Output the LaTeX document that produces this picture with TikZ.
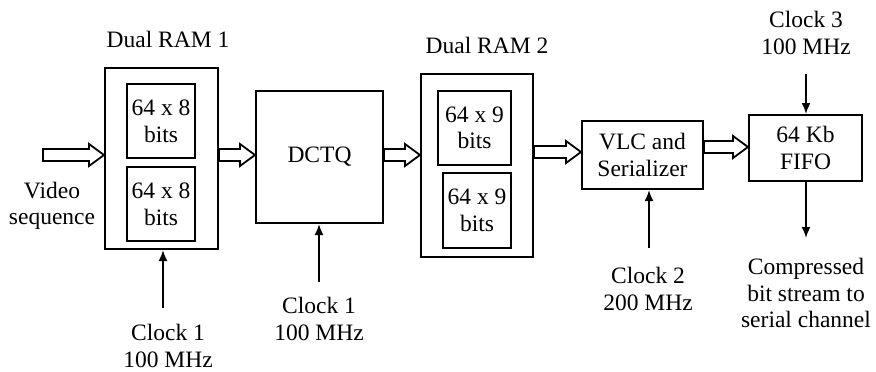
\documentclass[tikz,border=0pt]{standalone}
\usepackage{fontspec}
\setmainfont{Liberation Serif}
\usetikzlibrary{arrows.meta,calc}
\tikzset{
  box/.style={draw,line width=1pt,inner sep=0pt,align=center},
  lbl/.style={inner sep=0pt,align=center},
  harr/.style={draw,line width=0.9pt,fill=white,line join=miter},
  clk/.style={line width=0.9pt,-{Latex[length=5.5pt,width=4.5pt]}}
}
\newcommand\harrow[3]{\path[harr] let \p1=([yshift=#3]#1), \p2=(#2) in
  (\x1,\y1+3pt) -- (\x2-7.5pt,\y1+3pt) -- (\x2-7.5pt,\y1+5.5pt) -- (\x2,\y1)
  -- (\x2-7.5pt,\y1-5.5pt) -- (\x2-7.5pt,\y1-3pt) -- (\x1,\y1-3pt) -- cycle;}
\begin{document}
\begin{tikzpicture}[x=0.5pt,y=-0.5pt,font=\fontsize{11.75}{13.3}\selectfont]
\useasboundingbox (0,0) rectangle (876,371);
% Dual RAM 1
\node[box,minimum width=56.5pt,minimum height=90.5pt] (ram1) at (161.5,158.5) {};
\node[box,minimum width=34pt,minimum height=37pt] (r1a) at (161,121) {64 x 8\\bits};
\node[box,minimum width=34pt,minimum height=37pt] (r1b) at (161,204) {64 x 8\\bits};
\node[lbl] (ram1l) at (168,39) {Dual RAM 1};
% DCTQ
\node[box,minimum width=63.5pt,minimum height=66pt] (dctq) at (319.5,157) {DCTQ};
% Dual RAM 2
\node[box,minimum width=56pt,minimum height=91.5pt] (ram2) at (477,165.5) {};
\node[box,minimum width=36.5pt,minimum height=37pt] (r2a) at (474.5,128) {64 x 9\\bits};
\node[box,minimum width=34pt,minimum height=37.5pt] (r2b) at (477,210.5) {64 x 9\\bits};
\node[lbl] (ram2l) at (487,45) {Dual RAM 2};
% VLC
\node[box,minimum width=60.5pt,minimum height=34pt] (vlc) at (642.5,155) {VLC and\\Serializer};
% FIFO
\node[box,minimum width=56.5pt,minimum height=33pt] (fifo) at (805.5,148) {64 Kb\\FIFO};
% labels
\node[lbl] (video) at (52,206) {Video\\sequence};
\node[lbl] (c1al) at (168,346) {Clock 1\\100 MHz};
\node[lbl] (c1bl) at (319,319) {Clock 1\\100 MHz};
\node[lbl] (c2l) at (648,289) {Clock 2\\200 MHz};
\node[lbl] (c3l) at (806,33) {Clock 3\\100 MHz};
\node[lbl] (outl) at (806,293) {Compressed\\bit stream to\\serial channel};
% coordinates
\coordinate (vin) at (43,155);
\coordinate (c1a) at (163,308);
\coordinate (c1b) at (319,282);
\coordinate (c2) at (649,248);
\coordinate (c3) at (806,74);
\coordinate (out) at (806,238);
% hollow arrows
\harrow{vin}{ram1.west}{0pt}
\harrow{ram1.east}{dctq.west}{1.75pt}
\harrow{dctq.east}{ram2.west}{1pt}
\harrow{ram2.east}{vlc.west}{6.75pt}
\harrow{vlc.east}{fifo.west}{4pt}
% clock arrows
\draw[clk] (c1a) -- (c1a |- ram1.south);
\draw[clk] (c1b) -- (c1b |- dctq.south);
\draw[clk] (c2) -- (c2 |- vlc.south);
\draw[clk] (c3) -- (c3 |- fifo.north);
\draw[clk] (out |- fifo.south) -- (out);
\end{tikzpicture}
\end{document}
